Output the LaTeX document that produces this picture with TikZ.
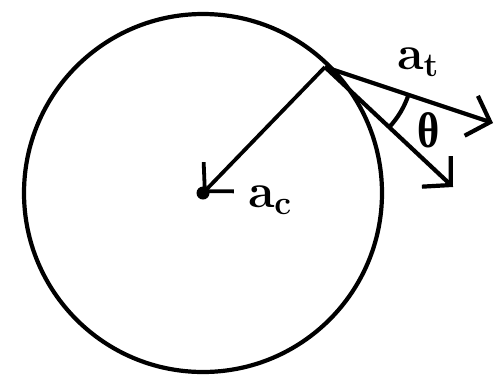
\RequirePackage{fix-cm}
\documentclass[tikz,border=0pt]{standalone}
\usepackage{fontspec}
\newfontfamily\grk{Liberation Serif}
\usetikzlibrary{arrows.meta}
\begin{document}
\begin{tikzpicture}[x=1pt,y=-1pt,line width=4.2pt,
  vec/.style={-{Straight Barb[length=20pt,width=42pt]}},
  lbl/.style={font=\fontsize{48}{54}\selectfont\boldmath,inner sep=0pt}]
\useasboundingbox (0,0) rectangle (495,381);
\coordinate (O) at (203,193);
\coordinate (P) at (325,67);
\coordinate (T1) at (493,123);
\coordinate (T2) at (453,187);
\draw (O) circle[radius=179];
\draw[vec,line width=3.8pt] (P) -- (O);
\fill (O) circle[radius=6.5];
\draw[vec] (P) -- (T1);
\draw[vec] (P) -- (T2);
\draw ([shift={(18.4:88)}]P) arc[start angle=18.4,end angle=43.2,radius=88];
\node[lbl] (ac) at (270,200) {$\mathbf{a}_{\mathbf{c}}$};
\node[lbl] (at) at (418,62) {$\mathbf{a}_{\mathbf{t}}$};
\node[lbl,font=\fontsize{50}{56}\selectfont\grk\bfseries,xscale=0.85] (th) at (429,130) {θ};
\end{tikzpicture}
\end{document}
